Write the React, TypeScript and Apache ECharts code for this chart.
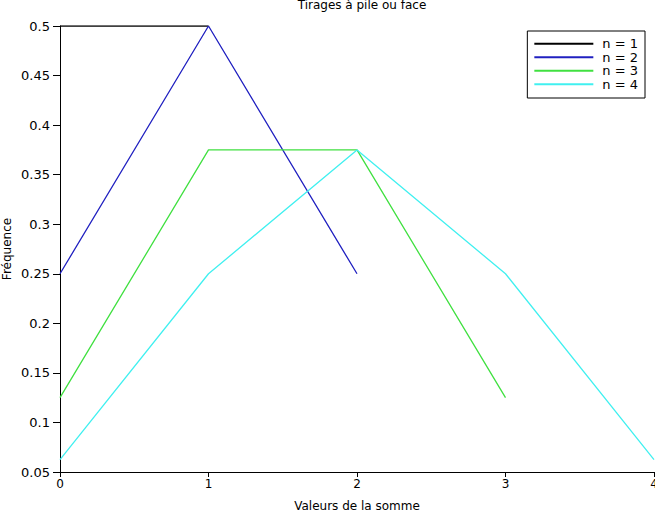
import React, { useEffect, useRef } from "react";
import * as echarts from "echarts";

const xValues = [0, 1, 2, 3, 4];
const seriesNames = ["n = 1", "n = 2", "n = 3", "n = 4"];
const n1 = [0.5, 0.5];
const n2 = [0.25, 0.5, 0.25];
const n3 = [0.125, 0.375, 0.375, 0.125];
const n4 = [0.0625, 0.25, 0.375, 0.25, 0.0625];
const colors = ["#000000", "#2020c0", "#40e040", "#40f0f0"];

const FONT = "DejaVu Sans";

export default function App() {
  const ref = useRef<HTMLDivElement>(null);
  useEffect(() => {
    if (!ref.current) return;
    const chart = echarts.init(ref.current, undefined, { renderer: "svg" });
    const all = [n1, n2, n3, n4];
    chart.setOption({
      animation: false,
      backgroundColor: "#ffffff",
      title: {
        text: "Tirages à pile ou face",
        left: 357,
        textAlign: "center",
        top: -6,
        textStyle: { fontFamily: FONT, fontSize: 12, fontWeight: "normal", color: "#000" },
      },
      grid: {
        left: 60,
        right: 1,
        top: 26,
        bottom: 40,
        containLabel: false,
        outerBoundsMode: "none",
      },
      legend: {
        orient: "vertical",
        right: 10,
        top: 31,
        padding: [6, 7, 7, 7],
        itemGap: 0,
        itemWidth: 59,
        itemHeight: 2,
        icon: "rect",
        borderColor: "#000",
        borderWidth: 1,
        backgroundColor: "#fff",
        textStyle: {
          fontFamily: FONT,
          fontSize: 13,
          color: "#000",
          lineHeight: 13.5,
          padding: [0, 0, 0, 4],
        },
        data: seriesNames,
      },
      xAxis: {
        type: "value",
        min: 0,
        max: 4,
        interval: 1,
        name: "Valeurs de la somme",
        nameLocation: "middle",
        nameGap: 28,
        nameMoveOverlap: false,
        nameTextStyle: { fontFamily: FONT, fontSize: 12, color: "#000" },
        axisLine: { show: true, lineStyle: { color: "#000", width: 1 } },
        axisTick: { show: true, inside: false, length: 5, lineStyle: { color: "#000" } },
        axisLabel: { fontFamily: FONT, fontSize: 12, color: "#000", margin: 6 },
        splitLine: { show: false },
      },
      yAxis: {
        type: "value",
        min: 0.05,
        max: 0.5,
        interval: 0.05,
        name: "Fréquence",
        nameLocation: "middle",
        nameGap: 47,
        nameMoveOverlap: false,
        nameTextStyle: { fontFamily: FONT, fontSize: 12, color: "#000" },
        axisLine: { show: true, lineStyle: { color: "#000", width: 1 } },
        axisTick: { show: true, inside: false, length: 7, lineStyle: { color: "#000" } },
        axisLabel: {
          fontFamily: FONT,
          fontSize: 13,
          color: "#000",
          margin: 10,
          formatter: (v: number) => String(Math.round(v * 100) / 100),
        },
        splitLine: { show: false },
      },
      series: all.map((vals, i) => ({
        name: seriesNames[i],
        type: "line",
        data: vals.map((v, j) => [xValues[j], v]),
        showSymbol: false,
        symbol: "none",
        lineStyle: { color: colors[i], width: 1.3 },
        itemStyle: { color: colors[i] },
        z: 2 + i,
      })),
    });
    return () => chart.dispose();
  }, []);
  return (
    <div
      ref={ref}
      style={{ position: "fixed", left: 0, top: 0, width: 655, height: 512 }}
    />
  );
}
